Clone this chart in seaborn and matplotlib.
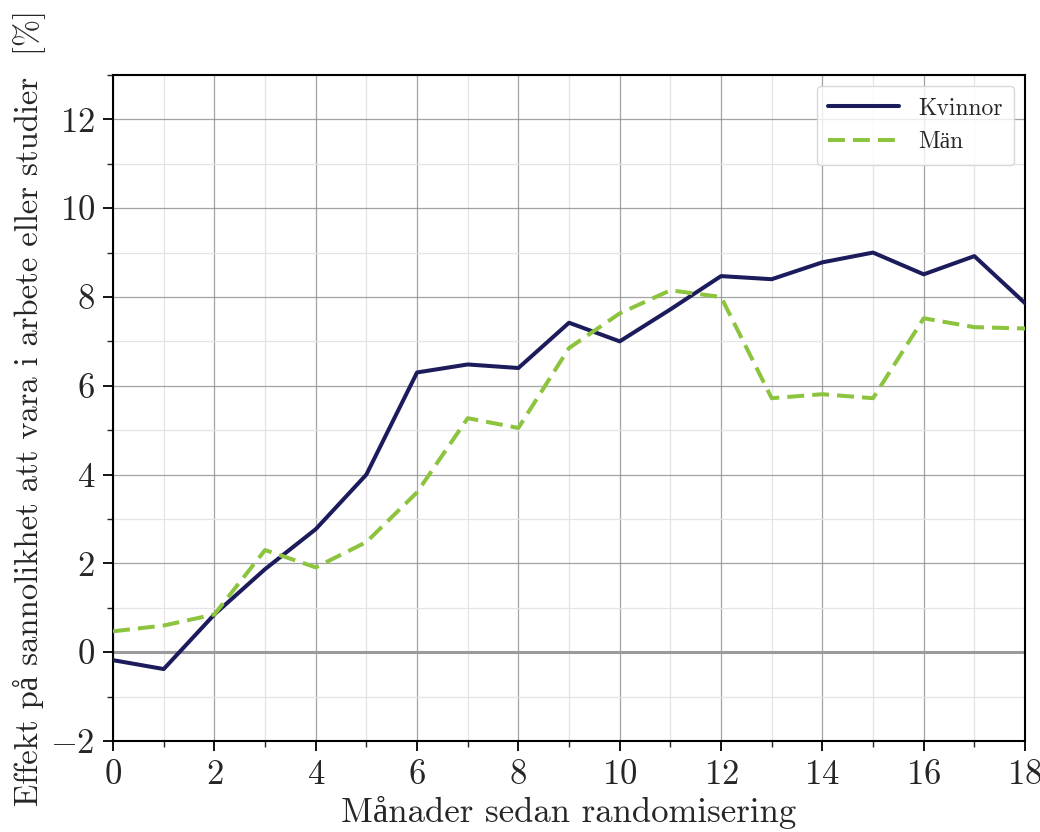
import numpy as np
import pandas as pd
import matplotlib
matplotlib.use("Agg")
import matplotlib.pyplot as plt
from matplotlib.ticker import MultipleLocator
import seaborn as sns

months = list(range(19))
kvinnor = [-0.18, -0.38, 0.85, 1.87, 2.77, 4.0, 6.3, 6.48, 6.4, 7.42, 7.0,
           7.72, 8.47, 8.40, 8.78, 9.0, 8.51, 8.92, 7.86]
man = [0.47, 0.6, 0.85, 2.3, 1.91, 2.48, 3.6, 5.27, 5.05, 6.85, 7.63,
       8.15, 8.0, 5.72, 5.81, 5.72, 7.52, 7.32, 7.29]
series_names = ["Kvinnor", "M\u00e4n"]
xlabel = "M\u00e5nader sedan randomisering"
ylabel = "Effekt p\u00e5 sannolikhet att vara i arbete eller studier  [%]"

df = pd.DataFrame({
    "x": months * 2,
    "y": kvinnor + man,
    "grupp": [series_names[0]] * len(months) + [series_names[1]] * len(months),
})

sns.set_style("white")
plt.rcParams["font.family"] = ["cmr10", "Liberation Serif"]
plt.rcParams["mathtext.fontset"] = "cm"
plt.rcParams["axes.formatter.use_mathtext"] = True
plt.rcParams["axes.unicode_minus"] = True

fig = plt.figure(figsize=(10.4, 8.32), dpi=100)
ax = fig.add_axes([0.1087, 0.1094, 0.8769, 0.8005])

ax.axhline(0, color="#9a9a9a", lw=2.2, zorder=1)

sns.lineplot(data=df, x="x", y="y", hue="grupp", style="grupp",
             palette={series_names[0]: "#1c1b5c", series_names[1]: "#8dc43f"},
             dashes={series_names[0]: "", series_names[1]: (4.2, 2.0)},
             linewidth=2.9, ax=ax, zorder=3)

ax.set_xlim(0, 18)
ax.set_ylim(-2, 13)
ax.xaxis.set_major_locator(MultipleLocator(2))
ax.xaxis.set_minor_locator(MultipleLocator(1))
ax.yaxis.set_major_locator(MultipleLocator(2))
ax.yaxis.set_minor_locator(MultipleLocator(1))

ax.grid(which="major", color="#8c8c8c", lw=0.9, alpha=0.8)
ax.grid(which="minor", color="#e4e4e4", lw=0.9)
ax.set_axisbelow(True)

ax.tick_params(which="major", direction="out", length=7, width=1.3,
               labelsize=25, color="black", left=True, bottom=True, pad=6)
ax.tick_params(which="minor", direction="out", length=4, width=1.0,
               left=True, bottom=True)
for s in ax.spines.values():
    s.set_color("black")
    s.set_linewidth(1.5)

ax.set_xlabel(xlabel, fontsize=25, labelpad=4)
ax.set_ylabel(ylabel, fontsize=23.5, labelpad=3)

leg = ax.legend(loc="upper right", fontsize=17, handlelength=3.0,
                frameon=True, fancybox=True, borderpad=0.5,
                borderaxespad=0.45, title=None)
leg.get_frame().set_edgecolor("#d0d0d0")
leg.get_frame().set_linewidth(1.0)
for h in leg.get_lines():
    h.set_linewidth(2.9)

fig.savefig("out.png", dpi=100)
